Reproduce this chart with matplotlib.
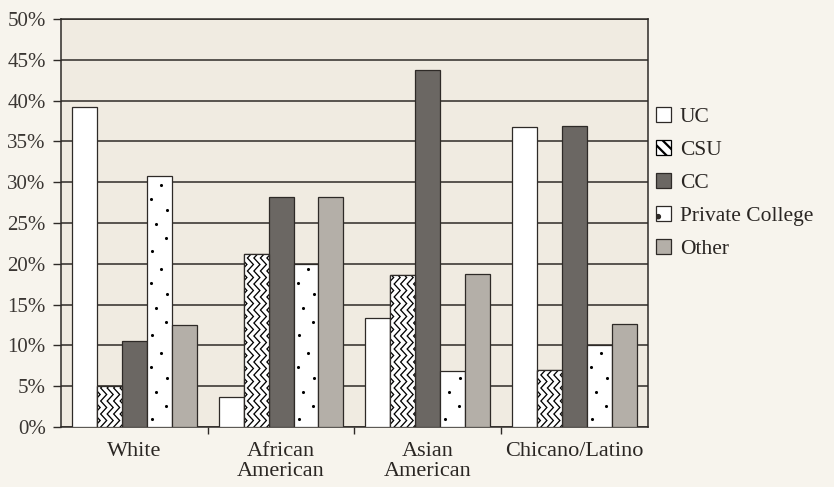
import matplotlib.pyplot as plt
from matplotlib.patches import Patch
import numpy as np

plt.rcParams['font.family'] = ['Liberation Serif', 'DejaVu Serif']
plt.rcParams['hatch.linewidth'] = 1.6

groups = ['White', 'African\nAmerican', 'Asian\nAmerican', 'Chicano/Latino']
series = ['UC', 'CSU', 'CC', 'Private College', 'Other']

uc = [39.2, 3.7, 13.4, 36.8]
csu = [5.0, 21.2, 18.6, 7.0]
cc = [10.6, 28.2, 43.7, 36.9]
private = [30.8, 20.0, 6.9, 10.0]
other = [12.5, 28.2, 18.7, 12.6]

values = [uc, csu, cc, private, other]
yticks = np.arange(0, 51, 5)

FIG_BG = '#f7f4ed'
AX_BG = '#f0ebe1'
INK = '#2e2a27'
faces = ['white', 'black', '#6b6763', 'white', '#b4afa8']

fig = plt.figure(figsize=(8.34, 4.87), dpi=100, facecolor=FIG_BG)
ax = fig.add_axes([0.0731, 0.1232, 0.7038, 0.8378], facecolor=AX_BG)
ax.set_xlim(-0.5, 3.5)
ax.set_ylim(0, 50)

# pixel -> data scale factors, used for the texture fills
pos = ax.get_position()
px_x = 4.0 / (pos.width * fig.get_figwidth() * fig.dpi)
px_y = 50.0 / (pos.height * fig.get_figheight() * fig.dpi)

x = np.arange(len(groups))
width = 0.17
bars = []
for i, (vals, fc) in enumerate(zip(values, faces)):
    b = ax.bar(x + (i - 2) * width, vals, width, color=fc, edgecolor=INK,
               linewidth=0.9, zorder=3)
    bars.append(b)

# zigzag texture for CSU bars
period, amp, gap = 13, 6, 6.5
for rect in bars[1]:
    x0, w, h = rect.get_x(), rect.get_width(), rect.get_height()
    ys = np.arange(0, h / px_y + period, period / 2)
    tri = np.where(np.arange(len(ys)) % 2 == 0, 0, amp)
    for off in np.arange(-amp - gap, w / px_x + gap, gap):
        line, = ax.plot(x0 + (off + tri) * px_x, ys * px_y, color='white',
                        lw=2.5, zorder=4, solid_joinstyle='miter')
        line.set_clip_path(rect)
    ax.bar(x0, h, w, align='edge', fill=False, edgecolor=INK, linewidth=0.9,
           zorder=5)

# sparse dot texture for private college bars
dot_offsets = [(5, 8), (19, 21), (9, 35), (20, 49), (4, 60), (14, 74)]
for rect in bars[3]:
    x0, w, h = rect.get_x(), rect.get_width(), rect.get_height()
    hp = h / px_y
    dx, dy = [], []
    base = 0
    while base < hp:
        for ox, oy in dot_offsets:
            if base + oy < hp - 3:
                dx.append(x0 + ox * px_x)
                dy.append((base + oy) * px_y)
        base += 84
    ax.scatter(dx, dy, s=5, color='black', zorder=4, linewidths=0)

ax.yaxis.grid(True, color=INK, linewidth=1.1, zorder=1)
ax.set_axisbelow(True)
ax.set_yticks(yticks)
ax.set_yticklabels([f'{v}%' for v in yticks], fontsize=15, color='#3a3633')
ax.tick_params(axis='y', direction='out', length=6, width=1, color=INK, pad=5)

ax.set_xticks(x)
ax.set_xticklabels(groups, fontsize=16, color='#2a2623', linespacing=1.05)
ax.tick_params(axis='x', length=0, pad=11)
ax.set_xticks([0.5, 1.5, 2.5], minor=True)
ax.tick_params(axis='x', which='minor', direction='out', length=5, width=1,
               color=INK)

for s in ax.spines.values():
    s.set_color(INK)
    s.set_linewidth(1.1)

handles = [
    Patch(facecolor='white', edgecolor=INK, linewidth=0.9),
    Patch(facecolor='white', edgecolor='black', linewidth=0.9, hatch='\\\\\\'),
    Patch(facecolor=faces[2], edgecolor=INK, linewidth=0.9),
    Patch(facecolor='white', edgecolor=INK, linewidth=0.9, hatch='.'),
    Patch(facecolor=faces[4], edgecolor=INK, linewidth=0.9),
]
fig.legend(handles, series, loc='center left', bbox_to_anchor=(0.787, 0.625),
           frameon=False, fontsize=15.5, handlelength=0.7, handleheight=0.7,
           handletextpad=0.4, labelspacing=0.6, borderpad=0,
           borderaxespad=0, labelcolor='#2a2623')

fig.savefig('out.png', dpi=100, facecolor=FIG_BG)
